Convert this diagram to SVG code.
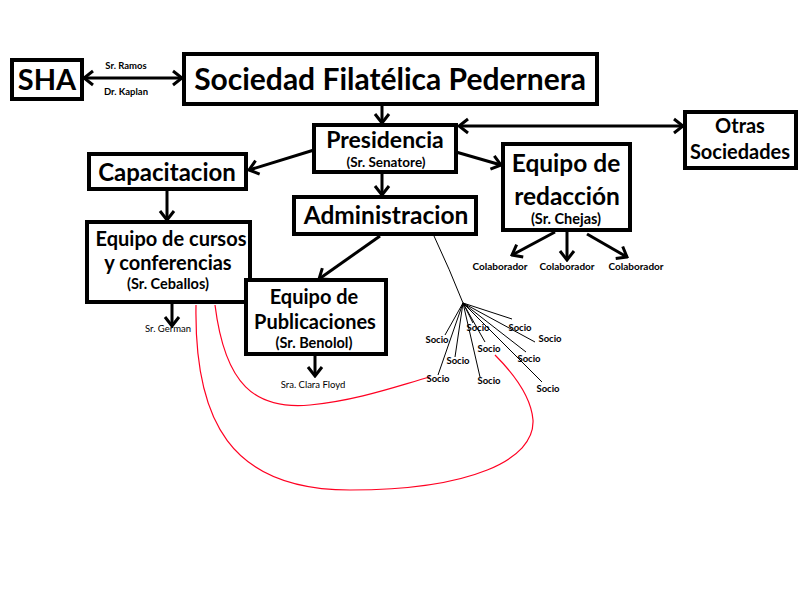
<svg xmlns="http://www.w3.org/2000/svg" width="800" height="600" viewBox="0 0 800 600">
<style>
.box{fill:#fff;stroke:#000;stroke-width:4}
text{font-family:Lato,"Open Sans","Liberation Sans",sans-serif;font-weight:bold;text-anchor:middle;fill:#000}
.c{fill:none;stroke:#000;stroke-width:3}
.t{fill:none;stroke:#000;stroke-width:1}
.r{fill:none;stroke:#ff0022;stroke-width:1.2}
.s{font-size:9.5px}
.k{font-size:10px}
.n{font-size:9.5px;font-weight:normal}
.sub{font-size:14.5px}
</style>
<defs>
<marker id="a" viewBox="-12 -10 14 20" markerWidth="14" markerHeight="20" refX="0" refY="0" orient="auto-start-reverse" markerUnits="userSpaceOnUse">
<path d="M-9,-7 L0,0 L-9,7" fill="none" stroke="#000" stroke-width="3"/>
</marker>
</defs>
<rect width="800" height="600" fill="#fff"/>
<g id="connectors">
<line class="c" x1="84" y1="78" x2="182" y2="78" marker-start="url(#a)" marker-end="url(#a)"/>
<line class="c" x1="382" y1="104" x2="382" y2="123" marker-end="url(#a)"/>
<line class="c" x1="459" y1="126" x2="683" y2="126" marker-start="url(#a)" marker-end="url(#a)"/>
<line class="c" x1="314" y1="150" x2="249" y2="170" marker-end="url(#a)"/>
<line class="c" x1="456" y1="152" x2="501" y2="165" marker-end="url(#a)"/>
<line class="c" x1="382" y1="172" x2="382" y2="195" marker-end="url(#a)"/>
<line class="c" x1="167" y1="189" x2="167" y2="220" marker-end="url(#a)"/>
<line class="c" x1="172" y1="302" x2="172" y2="326" marker-end="url(#a)"/>
<line class="c" x1="380" y1="236" x2="319" y2="279" marker-end="url(#a)"/>
<line class="c" x1="315" y1="354" x2="315" y2="376" marker-end="url(#a)"/>
<line class="c" x1="555" y1="232" x2="512" y2="255" marker-end="url(#a)"/>
<line class="c" x1="567" y1="232" x2="567" y2="260" marker-end="url(#a)"/>
<line class="c" x1="587" y1="234" x2="627" y2="257" marker-end="url(#a)"/>
<path class="t" d="M434,236 Q450,270 463,303"/>
<g class="t">
<line x1="463" y1="303" x2="445" y2="335"/>
<line x1="463" y1="303" x2="455" y2="357"/>
<line x1="463" y1="303" x2="438" y2="375"/>
<line x1="463" y1="303" x2="473" y2="323"/>
<line x1="463" y1="303" x2="485" y2="342"/>
<line x1="463" y1="303" x2="480" y2="377"/>
<line x1="463" y1="303" x2="512" y2="319"/>
<line x1="463" y1="303" x2="535" y2="342"/>
<line x1="463" y1="303" x2="526" y2="352"/>
<line x1="463" y1="303" x2="542" y2="382"/>
</g>
<path class="r" d="M215,305 C225,385 255,410 310,405 C360,400 400,385 430,377"/>
<path class="r" d="M196,305 C194,420 230,490 350,490 C470,490 535,460 533,420 C531,395 510,370 495,355"/>
</g>
<g id="sha"><rect class="box" x="12" y="60" width="70" height="39"/><text x="47" y="90" font-size="29">SHA</text></g>
<text class="s" x="126" y="69">Sr. Ramos</text>
<text class="s" x="126" y="95">Dr. Kaplan</text>
<g id="sociedad"><rect class="box" x="184" y="54" width="413" height="50"/><text x="390" y="90" font-size="30">Sociedad Filatélica Pedernera</text></g>
<g id="presidencia"><rect class="box" x="314" y="125" width="142" height="47"/><text x="385" y="148" font-size="23">Presidencia</text><text x="386" y="167" font-size="13.5">(Sr. Senatore)</text></g>
<g id="otras"><rect class="box" x="685" y="112" width="111" height="56"/><text x="740" y="133" font-size="20">Otras</text><text x="740" y="159" font-size="20">Sociedades</text></g>
<g id="capacitacion"><rect class="box" x="89" y="154" width="157" height="35"/><text x="167" y="181" font-size="24">Capacitacion</text></g>
<g id="redaccion"><rect class="box" x="503" y="144" width="127" height="86"/><text x="566" y="172" font-size="24.5">Equipo de</text><text x="567" y="205" font-size="24.5">redacción</text><text class="sub" x="566" y="224">(Sr. Chejas)</text></g>
<g id="administracion"><rect class="box" x="294" y="197" width="182" height="37"/><text x="386" y="224" font-size="24.5">Administracion</text></g>
<g id="cursos"><rect class="box" x="87" y="222" width="163" height="80"/><text x="171" y="246" font-size="20">Equipo de cursos</text><text x="168" y="270" font-size="20">y conferencias</text><text class="sub" x="168" y="289">(Sr. Ceballos)</text></g>
<g id="publicaciones"><rect class="box" x="246" y="280" width="140" height="74"/><text x="314" y="304" font-size="20">Equipo de</text><text x="315" y="329" font-size="20">Publicaciones</text><text class="sub" x="314" y="348">(Sr. Benolol)</text></g>
<text class="n" x="168" y="332">Sr. German</text>
<text class="n" x="313" y="388">Sra. Clara Floyd</text>
<text class="k" x="500" y="270">Colaborador</text>
<text class="k" x="567" y="270">Colaborador</text>
<text class="k" x="636" y="270">Colaborador</text>
<g class="socios">
<text class="s" x="437" y="343">Socio</text>
<text class="s" x="478" y="331">Socio</text>
<text class="s" x="520" y="331">Socio</text>
<text class="s" x="550" y="342">Socio</text>
<text class="s" x="458" y="364">Socio</text>
<text class="s" x="489" y="352">Socio</text>
<text class="s" x="529" y="362">Socio</text>
<text class="s" x="438" y="382">Socio</text>
<text class="s" x="489" y="384">Socio</text>
<text class="s" x="548" y="392">Socio</text>
</g>
</svg>
